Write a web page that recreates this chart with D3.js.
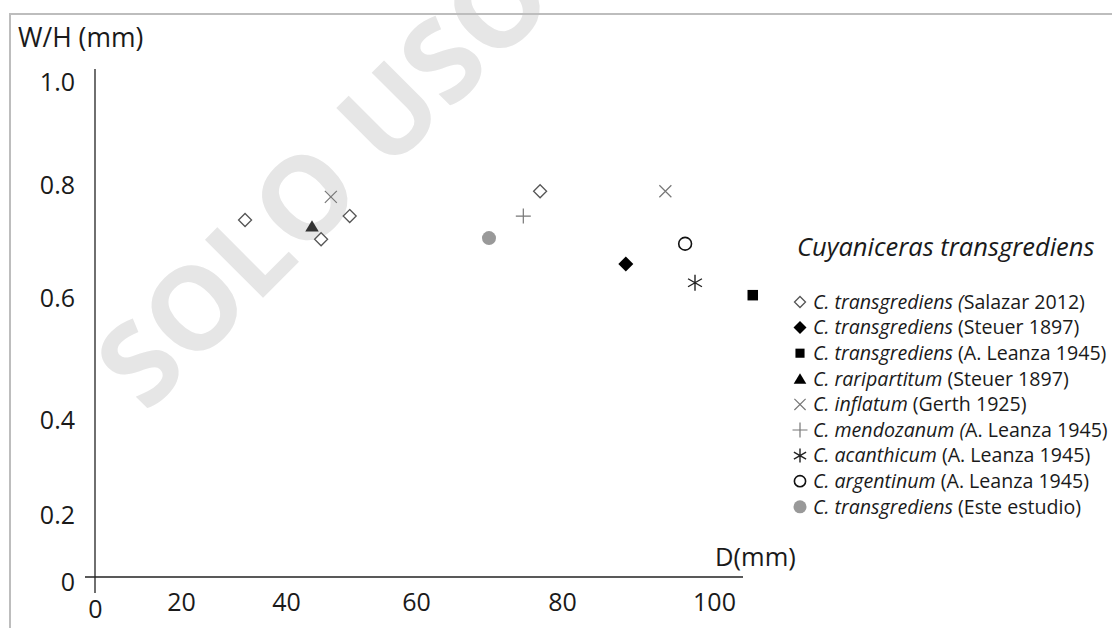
<!DOCTYPE html>
<html>
<head>
<meta charset="utf-8">
<script src="https://cdn.jsdelivr.net/npm/d3@7"></script>
<style>
  body { margin: 0; background: #fff; }
  svg { display: block; }
  text { font-family: "Open Sans", sans-serif; fill: #1a1a1a; }
</style>
</head>
<body>
<div id="chart"></div>
<script>
// tick labels
var xTicks = [0, 20, 40, 60, 80, 100];
var yTicks = [0, 0.2, 0.4, 0.6, 0.8, 1.0];

// values (D in mm, W/H)
var salazarD = [32.2, 45.4, 49.8, 77.0], salazarWH = [0.738, 0.704, 0.745, 0.789];
var steuerD = [88.4], steuerWH = [0.660];
var leanzaD = [105.1], leanzaWH = [0.605];
var raripartitumD = [44.0], raripartitumWH = [0.727];
var inflatumD = [46.9, 93.6], inflatumWH = [0.779, 0.789];
var mendozanumD = [74.7], mendozanumWH = [0.745];
var acanthicumD = [97.5], acanthicumWH = [0.627];
var argentinumD = [96.2], argentinumWH = [0.696];
var esteD = [70.0], esteWH = [0.706];

var legendTitle = "Cuyaniceras transgrediens";
var taxa = ["C. transgrediens (", "C. transgrediens", "C. transgrediens", "C. raripartitum",
            "C. inflatum", "C. mendozanum (", "C. acanthicum", "C. argentinum", "C. transgrediens"];
var refs = ["Salazar 2012)", " (Steuer 1897)", " (A. Leanza 1945)", " (Steuer 1897)",
            " (Gerth 1925)", "A. Leanza 1945)", " (A. Leanza 1945)", " (A. Leanza 1945)", " (Este estudio)"];
var markers = ["diamondOpen", "diamond", "square", "triangle", "cross", "plus", "asterisk", "circleOpen", "circleGray"];
var seriesD = [salazarD, steuerD, leanzaD, raripartitumD, inflatumD, mendozanumD, acanthicumD, argentinumD, esteD];
var seriesWH = [salazarWH, steuerWH, leanzaWH, raripartitumWH, inflatumWH, mendozanumWH, acanthicumWH, argentinumWH, esteWH];

var width = 1112, height = 628;

var svg = d3.select("#chart")
    .append("svg")
    .attr("width", width)
    .attr("height", height);

svg.append("rect").attr("width", width).attr("height", height).attr("fill", "#fff");

// the original axes are hand drawn, tick spacing is uneven -> piecewise scales
var x = d3.scaleLinear()
    .domain(xTicks)
    .range([95, 181, 286, 416, 562, 714]);
var y = d3.scaleLinear()
    .domain(yTicks)
    .range([577, 515, 420, 298, 185, 82]);

// watermark (runs off the top edge like the original)
svg.append("text")
    .attr("transform", "translate(323,179) rotate(-45)")
    .attr("text-anchor", "middle")
    .attr("dy", "0.36em")
    .style("font-size", "115px")
    .style("font-weight", 700)
    .style("fill", "#e6e6e6")
    .text("SOLO USO");

// frame
svg.append("path")
    .attr("d", "M10," + height + "V14H" + width)
    .attr("fill", "none")
    .attr("stroke", "#bdbdbd")
    .attr("stroke-width", 2);

// axis lines
svg.append("line")
    .attr("x1", x(0)).attr("x2", x(0))
    .attr("y1", y(1) - 13).attr("y2", y(0) + 16)
    .attr("stroke", "#222").attr("stroke-width", 1.3);
svg.append("line")
    .attr("x1", x(0) - 10).attr("x2", x(100) + 29)
    .attr("y1", y(0)).attr("y2", y(0))
    .attr("stroke", "#222").attr("stroke-width", 1.3);

var yAxis = svg.append("g")
    .attr("transform", "translate(" + x(0) + ",0)")
    .call(d3.axisLeft(y).tickValues(yTicks).tickSize(0).tickPadding(20)
        .tickFormat(function (d) { return d === 0 ? "0" : d3.format(".1f")(d); }));
yAxis.select(".domain").remove();
yAxis.selectAll("text")
    .style("font-size", "25px")
    .attr("dy", function (d) { return d === 0 ? "0.52em" : "0.32em"; });

var xAxis = svg.append("g")
    .attr("transform", "translate(0," + y(0) + ")")
    .call(d3.axisBottom(x).tickValues(xTicks).tickSize(0).tickPadding(16)
        .tickFormat(d3.format("d")));
xAxis.select(".domain").remove();
xAxis.selectAll("text")
    .style("font-size", "25px")
    .attr("dy", function (d) { return d === 0 ? "1.0em" : "0.71em"; });

// axis titles
svg.append("text").attr("x", 18).attr("y", 38).attr("dy", "0.35em")
    .style("font-size", "26.5px").text("W/H (mm)");
svg.append("text").attr("x", 715).attr("y", 557).attr("dy", "0.35em")
    .style("font-size", "25.5px").text("D(mm)");

// marker drawing
function drawMarker(g, type, s) {
    if (type === "diamondOpen") {
        g.append("path").attr("d", "M0," + (-s) + "L" + s + ",0L0," + s + "L" + (-s) + ",0Z")
            .attr("fill", "#fff").attr("stroke", "#555").attr("stroke-width", 1.3);
    } else if (type === "diamond") {
        g.append("path").attr("d", "M0," + (-s) + "L" + s + ",0L0," + s + "L" + (-s) + ",0Z")
            .attr("fill", "#000");
    } else if (type === "square") {
        g.append("rect").attr("x", -s * 0.7).attr("y", -s * 0.7)
            .attr("width", s * 1.4).attr("height", s * 1.4).attr("fill", "#000");
    } else if (type === "triangle") {
        g.append("path").attr("d", "M0," + (-s * 0.8) + "L" + (s * 0.9) + "," + (s * 0.7) + "L" + (-s * 0.9) + "," + (s * 0.7) + "Z")
            .attr("fill", g.classed("legend-mark") ? "#000" : "#333");
    } else if (type === "cross") {
        var c = s * 0.8;
        g.append("path").attr("d", "M" + (-c) + "," + (-c) + "L" + c + "," + c + "M" + c + "," + (-c) + "L" + (-c) + "," + c)
            .attr("stroke", "#777").attr("stroke-width", 1.2);
    } else if (type === "plus") {
        g.append("path").attr("d", "M" + (-s) + ",0H" + s + "M0," + (-s) + "V" + s)
            .attr("stroke", "#777").attr("stroke-width", 1.2);
    } else if (type === "asterisk") {
        var a = s * 0.87, b = s * 0.5;
        g.append("path").attr("d", "M0," + (-s) + "V" + s + "M" + (-a) + "," + (-b) + "L" + a + "," + b + "M" + a + "," + (-b) + "L" + (-a) + "," + b)
            .attr("stroke", "#222").attr("stroke-width", 1.4);
    } else if (type === "circleOpen") {
        g.append("circle").attr("r", s * 0.8).attr("fill", "#fff").attr("stroke", "#111").attr("stroke-width", 1.6);
    } else if (type === "circleGray") {
        g.append("circle").attr("r", s).attr("fill", "#999");
    }
}

// points
var pointSize = { diamondOpen: 6.5, diamond: 7.5, square: 7.5, triangle: 7.5, cross: 7.5,
                  plus: 7.5, asterisk: 8, circleOpen: 8, circleGray: 7 };
seriesD.forEach(function (ds, i) {
    ds.forEach(function (d, j) {
        var g = svg.append("g")
            .attr("transform", "translate(" + x(d) + "," + y(seriesWH[i][j]) + ")");
        drawMarker(g, markers[i], pointSize[markers[i]]);
    });
});

// legend
svg.append("text")
    .attr("x", 797).attr("y", 247).attr("dy", "0.35em")
    .style("font-size", "25.5px").style("font-style", "italic")
    .text(legendTitle);

var legendSize = { diamondOpen: 5.5, diamond: 6.5, square: 6.5, triangle: 7, cross: 7,
                   plus: 7.5, asterisk: 7, circleOpen: 7, circleGray: 6.5 };
var legend = svg.selectAll(".legend-row")
    .data(taxa)
    .enter()
    .append("g")
    .attr("class", "legend-row")
    .attr("transform", function (d, i) { return "translate(800," + (302 + i * 25.6) + ")"; });

legend.each(function (d, i) {
    var g = d3.select(this).append("g").classed("legend-mark", true);
    drawMarker(g, markers[i], legendSize[markers[i]]);
});

var label = legend.append("text")
    .attr("x", 13)
    .attr("dy", "0.35em")
    .style("font-size", "19.6px");
label.append("tspan").style("font-style", "italic").text(function (d) { return d; });
label.append("tspan").text(function (d, i) { return refs[i]; });
</script>
</body>
</html>
